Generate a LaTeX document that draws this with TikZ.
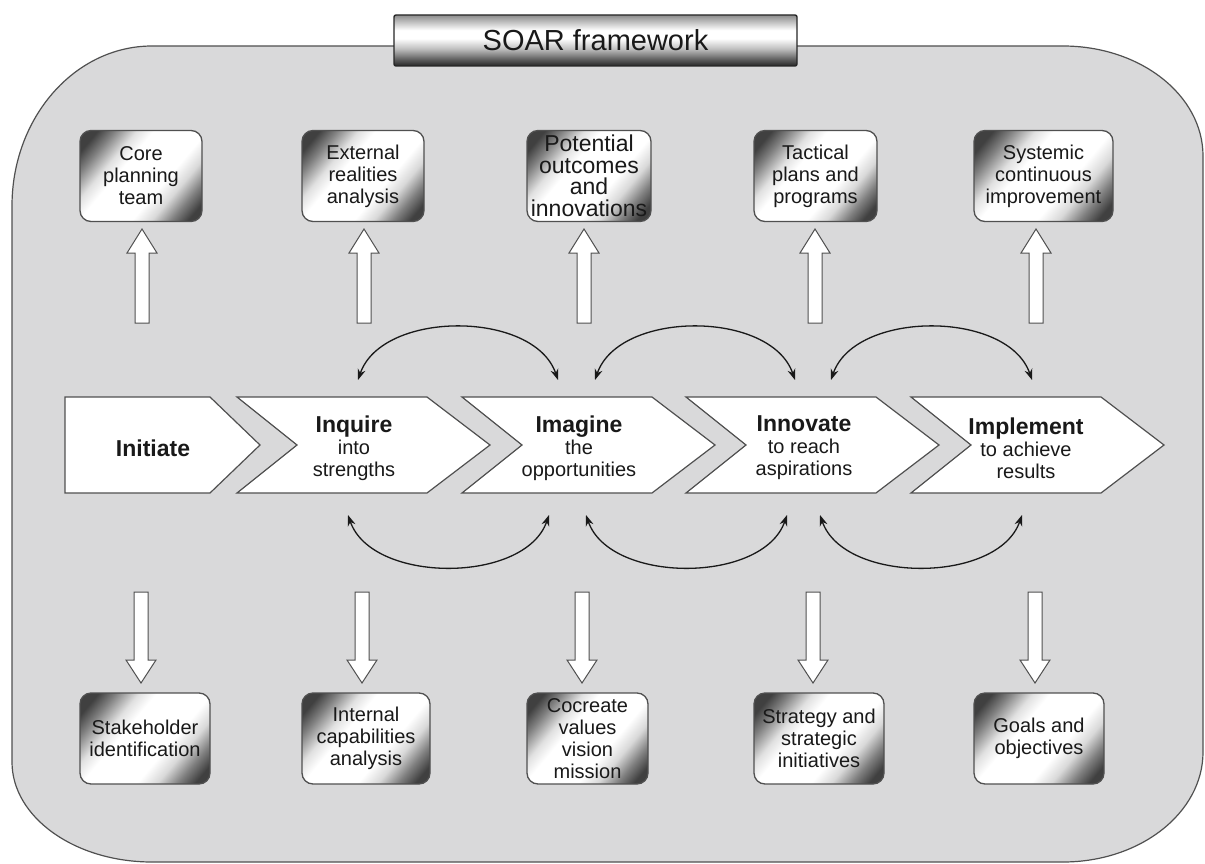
\documentclass[tikz,border=0pt]{standalone}
\usepackage{fontspec}
\setmainfont{Liberation Sans}
\usetikzlibrary{arrows.meta}
\definecolor{bggray}{RGB}{217,217,218}
\definecolor{edgegray}{RGB}{80,80,80}
\definecolor{txt}{RGB}{25,25,25}
\pgfdeclarehorizontalshading{boxmetal}{100bp}{color(0bp)=(black!75); color(21bp)=(black!75); color(27bp)=(black!50); color(35bp)=(black!12); color(41bp)=(white); color(60bp)=(white); color(67bp)=(black!15); color(74bp)=(black!50); color(80bp)=(black!75); color(100bp)=(black!75)}
\pgfdeclareverticalshading{titlemetal}{100bp}{color(0bp)=(black!85); color(25bp)=(black!85); color(31bp)=(black!65); color(42bp)=(black!25); color(52bp)=(white); color(60bp)=(white); color(75bp)=(black!45); color(100bp)=(black!45)}
\newcommand{\phasehead}[1]{{\fontsize{23}{22}\selectfont\bfseries #1}}
\newcommand{\blockup}[1]{\draw[blockarrow] (#1-7,323) -- (#1-7,253) -- (#1-15,253) -- (#1,229) -- (#1+15,253) -- (#1+7,253) -- (#1+7,323) -- cycle;}
\newcommand{\blockdown}[1]{\draw[blockarrow] (#1-7,592) -- (#1-7,660) -- (#1-15,660) -- (#1,683) -- (#1+15,660) -- (#1+7,660) -- (#1+7,592) -- cycle;}
\newcommand{\chevronat}[1]{\draw[chevron] (#1,397) -- (#1+190,397) -- (#1+253,445) -- (#1+190,493) -- (#1,493) -- (#1+60,445) -- cycle;}
\begin{document}
\begin{tikzpicture}[x=1pt,y=-1pt,
  infobox/.style={draw=edgegray, line width=1.3pt, rounded corners=11pt, shading=boxmetal, shading angle=-40, minimum height=91pt, inner sep=0pt, align=center, text=txt, font=\fontsize{20}{22}\selectfont},
  titlebox/.style={draw=black!85, line width=1.4pt, rounded corners=2pt, shading=titlemetal, minimum width=403pt, minimum height=51pt, inner sep=0pt, text=txt, font=\fontsize{29}{30}\selectfont},
  chevron/.style={draw=edgegray, fill=white, line width=1.2pt, line join=miter},
  phasetext/.style={align=center, text=txt, inner sep=0pt, font=\fontsize{20}{22}\selectfont},
  blockarrow/.style={draw=edgegray, fill=white, line width=1pt},
  cyclearc/.style={draw=black!90, line width=1.3pt, {Stealth[length=11pt,width=8pt]}-{Stealth[length=11pt,width=8pt]}}]
\useasboundingbox (0,0) rectangle (1205,864);
% outer frame
\draw[fill=bggray, draw=edgegray, line width=1.2pt]
  (152,46) -- (1063,46) .. controls (1140.3,46) and (1203,95.25) .. (1203,156)
  -- (1203,752) .. controls (1203,812.75) and (1140.3,862) .. (1063,862)
  -- (152,862) .. controls (74.7,862) and (12,817.2) .. (12,762)
  -- (12,206) .. controls (12,117.6) and (74.7,46) .. (152,46) -- cycle;
% title
\node[titlebox] (title) at (595.5,40.5) {SOAR framework};
% top boxes
\node[infobox, minimum width=122pt] (core) at (141,176) {Core\\planning\\team};
\node[infobox, minimum width=122pt] (external) at (363,176) {External\\realities\\analysis};
\node[infobox, minimum width=124pt, font=\fontsize{23}{21.5}\selectfont] (potential) at (589,176) {Potential\\outcomes\\and\\innovations};
\node[infobox, minimum width=123pt] (tactical) at (815.5,176) {Tactical\\plans and\\programs};
\node[infobox, minimum width=139pt] (systemic) at (1043.5,176) {Systemic\\continuous\\improvement};
% bottom boxes
\node[infobox, minimum width=130pt] (stake) at (145,738.5) {Stakeholder\\identification};
\node[infobox, minimum width=128pt] (internal) at (366,738.5) {Internal\\capabilities\\analysis};
\node[infobox, minimum width=121pt] (cocreate) at (587.5,738.5) {Cocreate\\values\\vision\\mission};
\node[infobox, minimum width=130pt] (strategy) at (819,738.5) {Strategy and\\strategic\\initiatives};
\node[infobox, minimum width=130pt] (goals) at (1039,738.5) {Goals and\\objectives};
% block arrows
\blockup{142}\blockup{364}\blockup{584}\blockup{815}\blockup{1036}
\blockdown{141}\blockdown{362}\blockdown{582}\blockdown{813}\blockdown{1035}
% chevrons
\draw[chevron] (65,397) -- (210,397) -- (260,445) -- (210,493) -- (65,493) -- cycle;
\chevronat{237}\chevronat{462}\chevronat{686}\chevronat{911}
\node[phasetext] (initiate) at (153,448) {\phasehead{Initiate}};
\node[phasetext] (inquire) at (354,448) {\phasehead{Inquire}\\into\\strengths};
\node[phasetext] (imagine) at (579,448) {\phasehead{Imagine}\\the\\opportunities};
\node[phasetext] (innovate) at (804,448) {\phasehead{Innovate}\\to reach\\aspirations};
\node[phasetext] (implement) at (1026,448) {\phasehead{Implement}\\to achieve\\results};
% cycle arcs
\coordinate (ta1) at (358,380); \coordinate (tb1) at (558,380);
\coordinate (ta2) at (595,380); \coordinate (tb2) at (795,380);
\coordinate (ta3) at (831,380); \coordinate (tb3) at (1032,380);
\coordinate (ba1) at (348,515); \coordinate (bb1) at (549,515);
\coordinate (ba2) at (586,515); \coordinate (bb2) at (787,515);
\coordinate (ba3) at (820,515); \coordinate (bb3) at (1022,515);
\foreach \i in {1,2,3}{
  \draw[cyclearc] (ta\i) .. controls +(24,-70) and +(-24,-70) .. (tb\i);
  \draw[cyclearc] (ba\i) .. controls +(24,69) and +(-24,69) .. (bb\i);
}
\end{tikzpicture}
\end{document}
